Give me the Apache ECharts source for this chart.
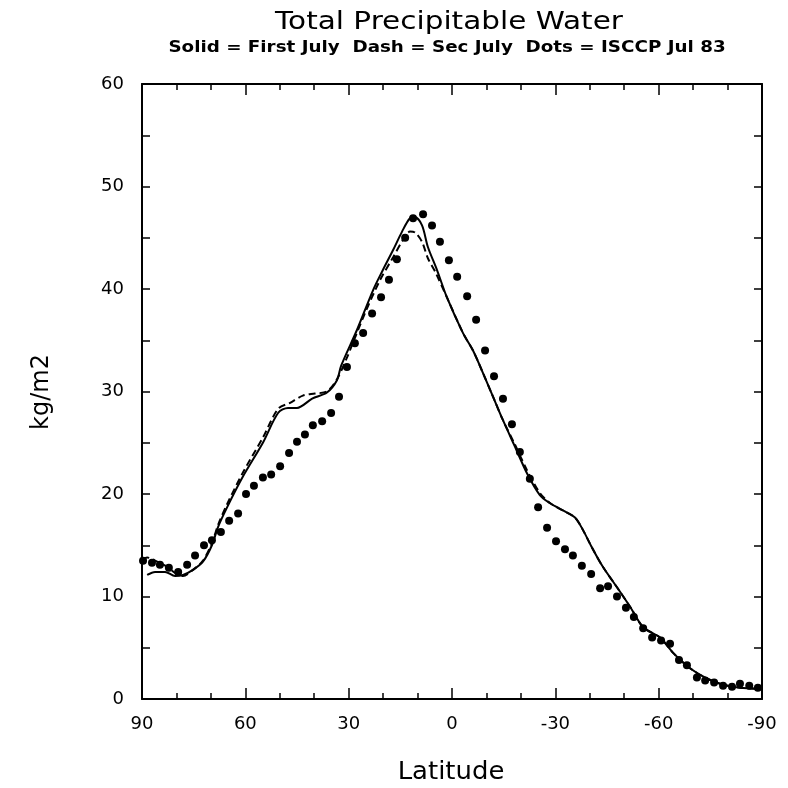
<!DOCTYPE html>
<html>
<head>
<meta charset="utf-8">
<script src="https://cdn.jsdelivr.net/npm/echarts@6/dist/echarts.min.js"></script>
<style>
html,body{margin:0;padding:0;background:#fff;}
#chart{width:788px;height:788px;}
</style>
</head>
<body>
<div id="chart"></div>
<script>
// Text
var titleText = 'Total Precipitable Water';
var subtitleText = 'Solid = First July  Dash = Sec July  Dots = ISCCP Jul 83';
var xName = 'Latitude';
var yName = 'kg/m2';

// Axis ticks
var xTicks = [90, 60, 30, 0, -30, -60, -90];
var yTicks = [0, 10, 20, 30, 40, 50, 60];

// Solid = First July
var solidLat = [88.5, 86.2, 83.3, 80.4, 78.1, 75.2, 72.3, 69.7, 67.9, 65.3, 60.7, 54.9, 50.5, 47.6, 45.0, 40.6, 36.3, 33.4, 32.2, 27.6, 22.9, 20.0, 17.1, 14.5, 12.2, 10.7, 8.7, 7.0, 4.4, 1.5, -3.2, -6.1, -9.0, -11.9, -14.8, -18.3, -21.8, -25.5, -28.5, -32.2, -35.7, -38.0, -40.6, -43.8, -47.9, -51.7, -55.5, -60.4, -64.2, -69.1, -74.0, -78.7, -83.6, -88.8];
var solidVal = [12.1, 12.4, 12.4, 12.0, 12.1, 12.6, 13.4, 15.0, 16.8, 18.7, 21.7, 25.0, 27.9, 28.4, 28.4, 29.3, 29.9, 31.1, 32.5, 36.0, 39.9, 41.9, 43.8, 45.6, 46.9, 47.0, 46.2, 44.1, 41.9, 39.2, 35.7, 34.0, 31.8, 29.5, 27.2, 24.6, 22.0, 19.9, 19.1, 18.4, 17.7, 16.5, 14.8, 12.9, 10.9, 9.0, 7.0, 6.0, 4.5, 3.0, 2.0, 1.4, 1.1, 1.0];

// Dash = Second July
var dashLat = [89.8, 88.5, 85.6, 82.7, 80.4, 78.1, 75.2, 72.3, 69.7, 67.9, 65.3, 60.7, 54.9, 50.5, 47.0, 43.3, 39.8, 36.3, 33.4, 30.5, 28.7, 25.2, 21.0, 17.1, 14.2, 12.2, 10.7, 8.7, 7.0, 4.9, 1.5, -3.2, -6.1, -9.0, -11.9, -14.8, -18.3, -21.8, -25.5, -28.5, -32.2, -35.7, -38.0, -40.6, -43.8, -47.9, -51.7, -55.5, -60.4, -64.2, -69.1, -74.0, -78.7, -83.6, -88.8];
var dashVal = [13.6, 13.8, 13.4, 12.9, 12.3, 12.0, 12.6, 13.5, 15.2, 17.0, 19.0, 22.1, 25.5, 28.3, 28.9, 29.6, 29.8, 30.0, 31.2, 33.3, 34.8, 37.7, 40.8, 43.1, 44.8, 45.6, 45.5, 44.6, 43.0, 41.7, 39.2, 35.7, 34.0, 31.8, 29.5, 27.2, 24.8, 22.3, 20.1, 19.1, 18.4, 17.7, 16.5, 14.8, 12.9, 10.9, 9.0, 7.0, 6.0, 4.5, 3.0, 2.0, 1.4, 1.1, 1.0];

// Dots = ISCCP Jul 83
var dotLat = [89.7, 87.1, 84.8, 82.2, 79.5, 76.9, 74.6, 72.0, 69.7, 67.1, 64.7, 62.1, 59.8, 57.5, 54.9, 52.5, 49.9, 47.3, 45.0, 42.7, 40.4, 37.7, 35.1, 32.8, 30.5, 28.2, 25.8, 23.2, 20.6, 18.3, 16.0, 13.6, 11.3, 8.4, 5.8, 3.5, 0.9, -1.5, -4.4, -7.0, -9.6, -12.2, -14.8, -17.4, -19.7, -22.6, -25.0, -27.6, -30.2, -32.8, -35.1, -37.7, -40.4, -43.0, -45.3, -47.9, -50.5, -52.8, -55.5, -58.1, -60.7, -63.3, -65.9, -68.2, -71.1, -73.5, -76.1, -78.7, -81.3, -83.6, -86.3, -88.8];
var dotVal = [13.5, 13.3, 13.1, 12.8, 12.4, 13.1, 14.0, 15.0, 15.5, 16.3, 17.4, 18.1, 20.0, 20.8, 21.6, 21.9, 22.7, 24.0, 25.1, 25.8, 26.7, 27.1, 27.9, 29.5, 32.4, 34.7, 35.7, 37.6, 39.2, 40.9, 42.9, 45.0, 46.9, 47.3, 46.2, 44.6, 42.8, 41.2, 39.3, 37.0, 34.0, 31.5, 29.3, 26.8, 24.1, 21.5, 18.7, 16.7, 15.4, 14.6, 14.0, 13.0, 12.2, 10.8, 11.0, 10.0, 8.9, 8.0, 6.9, 6.0, 5.7, 5.4, 3.8, 3.3, 2.1, 1.8, 1.6, 1.3, 1.2, 1.5, 1.3, 1.1];

function pairs(xs, ys) { return xs.map(function (x, i) { return [x, ys[i]]; }); }

var FONT = 'DejaVu Sans';
var axisLineStyle = { color: '#000', width: 2 };

function xAxisCfg(pos, showLabel) {
  return {
    type: 'value', position: pos, inverse: true,
    min: xTicks[xTicks.length - 1], max: xTicks[0], interval: 30,
    axisLine: { show: true, onZero: false, lineStyle: axisLineStyle },
    axisTick: { show: true, inside: true, length: 11, lineStyle: { color: '#000', width: 1.5 } },
    minorTick: { show: true, splitNumber: 3, length: 6, lineStyle: { color: '#000', width: 1.5 } },
    splitLine: { show: false }, minorSplitLine: { show: false },
    axisLabel: { show: showLabel, margin: 16, color: '#000', fontFamily: FONT, fontSize: 18 }
  };
}
function yAxisCfg(pos, showLabel) {
  return {
    type: 'value', position: pos,
    min: yTicks[0], max: yTicks[yTicks.length - 1], interval: 10,
    axisLine: { show: true, onZero: false, lineStyle: axisLineStyle },
    axisTick: { show: true, inside: true, length: 8, lineStyle: { color: '#000', width: 1.5 } },
    minorTick: { show: true, splitNumber: 2, length: 8, lineStyle: { color: '#000', width: 1.5 } },
    splitLine: { show: false }, minorSplitLine: { show: false },
    axisLabel: { show: showLabel, margin: 18, color: '#000', fontFamily: FONT, fontSize: 18 }
  };
}

function txt(text, x, y, size, weight, rot, sx) {
  return {
    type: 'text', x: x, y: y, rotation: rot || 0, scaleX: sx || 1,
    style: { text: text, fontSize: size, fontFamily: FONT, fontWeight: weight,
             fill: '#000', align: 'center', verticalAlign: 'middle' }
  };
}

var chart = echarts.init(document.getElementById('chart'), null, { renderer: 'canvas' });
chart.setOption({
  backgroundColor: '#fff',
  animation: false,
  grid: { left: 142, right: 26, top: 84, bottom: 89, containLabel: false },
  xAxis: [xAxisCfg('bottom', true), xAxisCfg('top', false)],
  yAxis: [yAxisCfg('left', true), yAxisCfg('right', false)],
  graphic: [
    txt(titleText, 449, 22, 25, 'normal', 0, 1.18),
    txt(subtitleText, 447, 48, 15, 'bold', 0, 1.22),
    txt(xName, 451, 773, 24, 'normal', 0, 1.08),
    txt(yName, 42, 392, 24, 'normal', Math.PI / 2)
  ],
  series: [
    { name: 'First July', type: 'line', xAxisIndex: 0, yAxisIndex: 0,
      data: pairs(solidLat, solidVal), showSymbol: false, smooth: 0.3,
      lineStyle: { color: '#000', width: 2, type: 'solid' }, z: 3 },
    { name: 'Sec July', type: 'line', xAxisIndex: 0, yAxisIndex: 0,
      data: pairs(dashLat, dashVal), showSymbol: false, smooth: 0.3,
      lineStyle: { color: '#000', width: 2, type: [7, 4] }, z: 3 },
    { name: 'ISCCP Jul 83', type: 'scatter', xAxisIndex: 0, yAxisIndex: 0,
      data: pairs(dotLat, dotVal), symbol: 'circle', symbolSize: 8,
      itemStyle: { color: '#000', opacity: 1 }, z: 4 }
  ]
});
</script>
</body>
</html>
